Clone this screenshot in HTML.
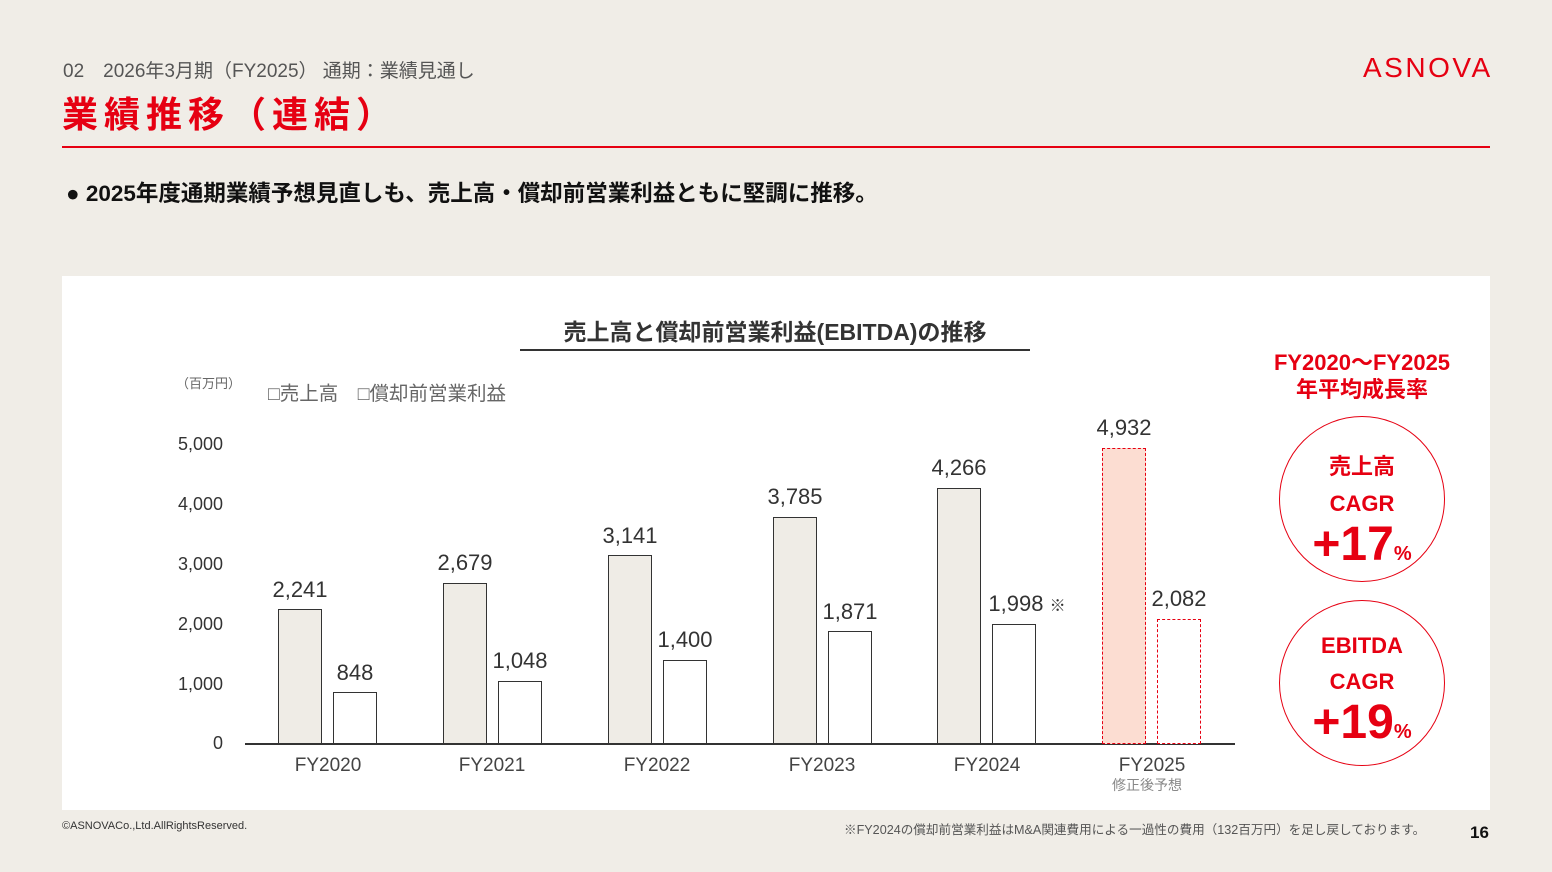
<!DOCTYPE html>
<html><head><meta charset="utf-8"><style>
*{margin:0;padding:0;box-sizing:border-box}
body{width:1552px;height:872px;background:#f0ede7;position:relative;overflow:hidden;font-family:"Liberation Sans","Noto Sans CJK JP",sans-serif}
.a{position:absolute;white-space:nowrap}
.v{position:absolute;font-size:22px;color:#333;text-align:center;width:100px}
.t{position:absolute;font-size:18px;color:#333;text-align:right;width:60px}
.x{position:absolute;font-size:19px;color:#444;text-align:center;width:120px}
.b{position:absolute;border:1px solid #333;width:44px}
.c{position:absolute;width:166px;height:166px;border:1.5px solid #e60012;border-radius:50%;color:#e60012;text-align:center;font-weight:bold}
</style></head><body>
<div class="a" style="left:63px;top:56px;font-size:19px;color:#555">02　2026年3月期（FY2025） 通期：業績見通し</div>
<div class="a" style="left:62px;top:86px;font-size:36px;color:#e60012;font-weight:bold;letter-spacing:6px">業績推移（連結）</div>
<div class="a" style="left:1363px;top:52px;font-size:28px;color:#e60012;letter-spacing:2.5px;font-weight:300">ASNOVA</div>
<div class="a" style="left:62px;top:146px;width:1428px;height:2px;background:#e60012"></div>
<div class="a" style="left:66px;top:176px;font-size:22.5px;font-weight:bold;color:#111">● 2025年度通期業績予想見直しも、売上高・償却前営業利益ともに堅調に推移。</div>
<div class="a" style="left:62px;top:276px;width:1428px;height:534px;background:#fff"></div>
<div class="a" style="left:520px;top:313px;width:510px;text-align:center;font-size:23px;font-weight:bold;color:#333">売上高と償却前営業利益(EBITDA)の推移</div>
<div class="a" style="left:520px;top:349px;width:510px;height:2px;background:#333"></div>
<div class="a" style="left:176px;top:373px;font-size:13px;color:#666">（百万円）</div>
<div class="a" style="left:268px;top:377px;font-size:19.5px;color:#666">□売上高　□償却前営業利益</div>
<div class="t" style="left:163px;top:434px">5,000</div>
<div class="t" style="left:163px;top:494px">4,000</div>
<div class="t" style="left:163px;top:554px">3,000</div>
<div class="t" style="left:163px;top:614px">2,000</div>
<div class="t" style="left:163px;top:674px">1,000</div>
<div class="t" style="left:163px;top:733px">0</div>
<div class="a" style="left:245px;top:743px;width:990px;height:1.5px;background:#333"></div>
<div class="b" style="left:278px;top:609px;height:135px;background:#efece6"></div>
<div class="b" style="left:333px;top:692px;height:52px;background:#fff"></div>
<div class="b" style="left:443px;top:583px;height:161px;background:#efece6"></div>
<div class="b" style="left:498px;top:681px;height:63px;background:#fff"></div>
<div class="b" style="left:608px;top:555px;height:189px;background:#efece6"></div>
<div class="b" style="left:663px;top:660px;height:84px;background:#fff"></div>
<div class="b" style="left:773px;top:517px;height:227px;background:#efece6"></div>
<div class="b" style="left:828px;top:631px;height:113px;background:#fff"></div>
<div class="b" style="left:937px;top:488px;height:256px;background:#efece6"></div>
<div class="b" style="left:992px;top:624px;height:120px;background:#fff"></div>
<div class="b" style="left:1102px;top:448px;height:296px;background:#fcddd2;border:1px dashed #e60012"></div>
<div class="b" style="left:1157px;top:619px;height:125px;background:#fff;border:1px dashed #e60012"></div>
<div class="v" style="left:250px;top:577px">2,241</div>
<div class="v" style="left:305px;top:660px">848</div>
<div class="v" style="left:415px;top:550px">2,679</div>
<div class="v" style="left:470px;top:648px">1,048</div>
<div class="v" style="left:580px;top:523px">3,141</div>
<div class="v" style="left:635px;top:627px">1,400</div>
<div class="v" style="left:745px;top:484px">3,785</div>
<div class="v" style="left:800px;top:599px">1,871</div>
<div class="v" style="left:909px;top:455px">4,266</div>
<div class="v" style="left:972px;top:591px;width:110px">1,998 <span style="font-size:16px">※</span></div>
<div class="v" style="left:1074px;top:415px">4,932</div>
<div class="v" style="left:1129px;top:586px">2,082</div>
<div class="x" style="left:268px;top:755px">FY2020</div>
<div class="x" style="left:432px;top:755px">FY2021</div>
<div class="x" style="left:597px;top:755px">FY2022</div>
<div class="x" style="left:762px;top:755px">FY2023</div>
<div class="x" style="left:927px;top:755px">FY2024</div>
<div class="x" style="left:1092px;top:755px">FY2025</div>
<div class="x" style="left:1087px;top:775px;font-size:14px;color:#888">修正後予想</div>
<div class="a" style="left:1262px;top:349px;width:200px;text-align:center;font-size:22px;font-weight:bold;color:#e60012;line-height:27px">FY2020～FY2025<br>年平均成長率</div>
<div class="c" style="left:1279px;top:416px"><div style="margin-top:32px;font-size:22px">売上高</div><div style="margin-top:10px;font-size:22px">CAGR</div><div style="margin-top:2px;font-size:48px;line-height:52px">+17<span style="font-size:20px">%</span></div></div>
<div class="c" style="left:1279px;top:600px"><div style="margin-top:32px;font-size:22px">EBITDA</div><div style="margin-top:10px;font-size:22px">CAGR</div><div style="margin-top:2px;font-size:48px;line-height:52px">+19<span style="font-size:20px">%</span></div></div>
<div class="a" style="left:62px;top:820px;font-size:11px;color:#333">©ASNOVACo.,Ltd.AllRightsReserved.</div>
<div class="a" style="left:844px;top:819px;font-size:12.6px;color:#555">※FY2024の償却前営業利益はM&amp;A関連費用による一過性の費用（132百万円）を足し戻しております。</div>
<div class="a" style="left:1470px;top:823px;font-size:17px;font-weight:bold;color:#111">16</div>
</body></html>
